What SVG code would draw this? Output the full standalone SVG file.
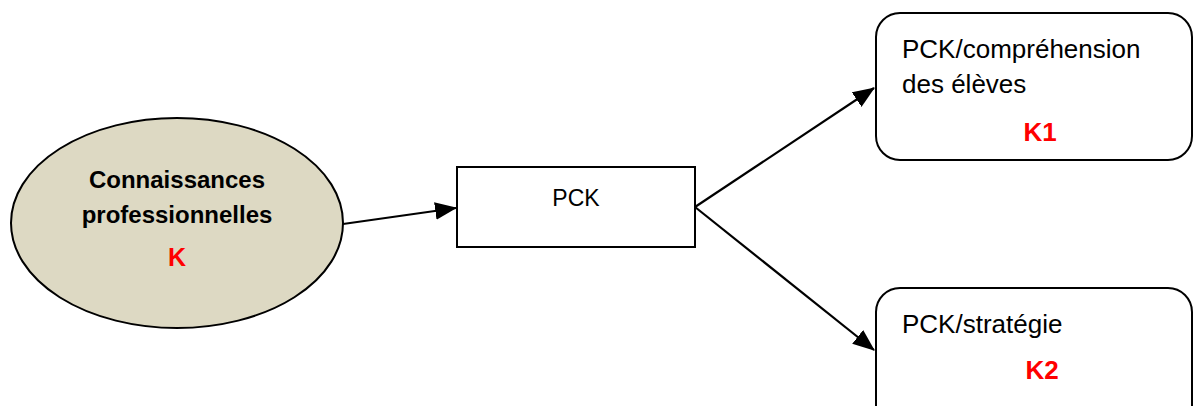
<svg xmlns="http://www.w3.org/2000/svg" width="1193" height="406" viewBox="0 0 1193 406">
<style>
.t{font-family:"Liberation Sans",Arial,sans-serif;fill:#000}
.b{font-weight:bold}
.r{fill:#ff0000;font-weight:bold}
.box{fill:#fff;stroke:#000;stroke-width:2}
.con{stroke:#000;stroke-width:2.2;fill:none;marker-end:url(#ah)}
</style>
<defs>
<marker id="ah" markerWidth="10" markerHeight="8" refX="9.5" refY="4" orient="auto" markerUnits="strokeWidth">
<path d="M0,0 L10,4 L0,8 Z" fill="#000"/>
</marker>
</defs>
<rect width="1193" height="406" fill="#fff"/>
<g id="connectors">
<line class="con" x1="343" y1="224" x2="456" y2="208"/>
<line class="con" x1="695" y1="207" x2="874" y2="88"/>
<line class="con" x1="695" y1="207" x2="874" y2="350"/>
</g>
<g id="node-k">
<ellipse cx="177" cy="223" rx="166" ry="105" fill="#ddd9c3" stroke="#000" stroke-width="2"/>
<text class="t b" x="177" y="188" font-size="24" text-anchor="middle">Connaissances</text>
<text class="t b" x="177" y="223" font-size="24" text-anchor="middle">professionnelles</text>
<text class="t r" x="177" y="266" font-size="25" text-anchor="middle">K</text>
</g>
<g id="node-pck">
<rect class="box" x="457" y="167" width="238" height="80"/>
<text class="t" x="576" y="206" font-size="23" text-anchor="middle">PCK</text>
</g>
<g id="node-k1">
<rect class="box" x="876" y="13" width="316" height="147" rx="24"/>
<text class="t" x="902" y="58" font-size="26">PCK/compréhension</text>
<text class="t" x="902" y="93" font-size="26">des élèves</text>
<text class="t r" x="1040" y="141" font-size="26" text-anchor="middle">K1</text>
</g>
<g id="node-k2">
<rect class="box" x="876" y="288" width="316" height="150" rx="24"/>
<text class="t" x="902" y="333" font-size="26">PCK/stratégie</text>
<text class="t r" x="1042" y="379" font-size="26" text-anchor="middle">K2</text>
</g>
</svg>
